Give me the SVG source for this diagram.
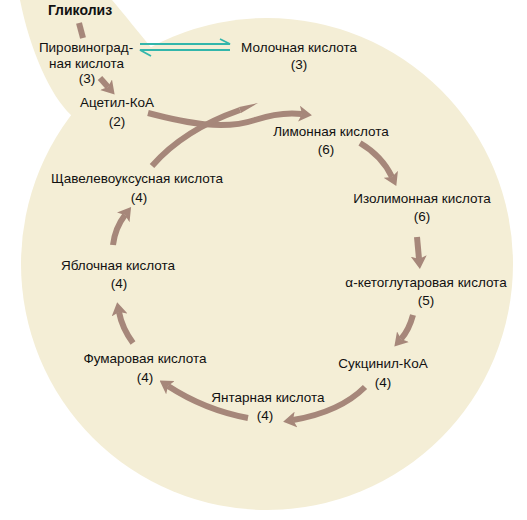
<svg xmlns="http://www.w3.org/2000/svg" width="527" height="520" viewBox="0 0 527 520">
<defs>
<style>
.t{font-family:"Liberation Sans",Arial,sans-serif;font-size:13.5px;fill:#111;text-anchor:middle}
.b{font-weight:bold;font-size:14px}
.a{fill:none;stroke:#a6877a;stroke-width:6;marker-end:url(#h)}
.s{fill:none;stroke:#a6877a;stroke-width:6}
.q{fill:none;stroke:#32b6ab;stroke-width:1.8}
</style>
<marker id="h" viewBox="0 0 13 16" refX="3" refY="8" markerWidth="13" markerHeight="16" markerUnits="userSpaceOnUse" orient="auto">
<path d="M0,0 L13,8 L0,16 L3,8 Z" fill="#a6877a"/>
</marker>
</defs>
<rect width="527" height="520" fill="#ffffff"/>
<g id="background" fill="#f4eed6">
<circle cx="267" cy="264" r="246"/>
<path d="M20,0 L112,0 C125,15 138,32 155,52 L100,150 L71,115 C50,95 30,50 20,0 Z"/>
</g>
<g id="connectors">
<line class="s" x1="79" y1="23" x2="83" y2="38"/>
<path class="a" d="M100,78 L108,87"/>
<path class="a" d="M148,113 C190,124 225,130 255,120 C270,115 285,112 302,114"/>
<path class="s" d="M152,166 C172,143 200,124 240,110"/>
<polygon points="241,113 239,107 258,103" fill="#a6877a"/>
<path class="a" d="M360,143 Q382,156 392,177"/>
<path class="a" d="M417,237 L419,259"/>
<path class="a" d="M413,315 Q409,330 401,339"/>
<path class="a" d="M365,387 Q340,412 293,420"/>
<path class="a" d="M248,418 Q205,410 168,386"/>
<path class="a" d="M133,343 Q122,328 119,312"/>
<path class="a" d="M113,245 Q115,228 125,215"/>
<path class="q" d="M140,44 L230,44 L220,39"/>
<path class="q" d="M230,50 L140,50 L151,56"/>
</g>
<g id="glycolysis"><text class="t b" x="80" y="15">Гликолиз</text></g>
<g id="pyruvate">
<text class="t" x="86" y="52">Пировиноград-</text>
<text class="t" x="86.5" y="67.5">ная кислота</text>
<text class="t" x="87" y="83">(3)</text>
</g>
<g id="acetylcoa">
<text class="t" x="117" y="107">Ацетил-КоА</text>
<text class="t" x="117" y="126">(2)</text>
</g>
<g id="lactate">
<text class="t" x="299" y="52">Молочная кислота</text>
<text class="t" x="299" y="69">(3)</text>
</g>
<g id="citrate">
<text class="t" x="331" y="136">Лимонная кислота</text>
<text class="t" x="326" y="154">(6)</text>
</g>
<g id="isocitrate">
<text class="t" x="422" y="203">Изолимонная кислота</text>
<text class="t" x="422" y="221">(6)</text>
</g>
<g id="ketoglutarate">
<text class="t" x="426" y="287">α-кетоглутаровая кислота</text>
<text class="t" x="426" y="305">(5)</text>
</g>
<g id="succinylcoa">
<text class="t" x="383" y="368">Сукцинил-КоА</text>
<text class="t" x="383" y="387">(4)</text>
</g>
<g id="succinate">
<text class="t" x="268" y="402">Янтарная кислота</text>
<text class="t" x="265" y="420">(4)</text>
</g>
<g id="fumarate">
<text class="t" x="145" y="363">Фумаровая кислота</text>
<text class="t" x="145" y="382">(4)</text>
</g>
<g id="malate">
<text class="t" x="118" y="270">Яблочная кислота</text>
<text class="t" x="119" y="288">(4)</text>
</g>
<g id="oxaloacetate">
<text class="t" x="137" y="183">Щавелевоуксусная кислота</text>
<text class="t" x="139" y="202">(4)</text>
</g>
</svg>
